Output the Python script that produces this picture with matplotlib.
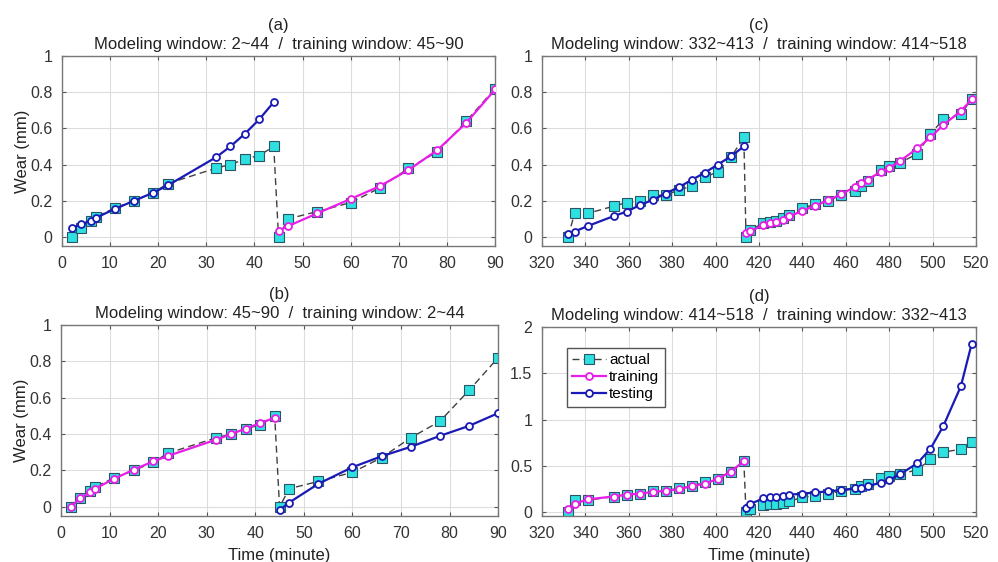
import matplotlib
matplotlib.use("Agg")
import matplotlib.pyplot as plt
import numpy as np

plt.rcParams['font.family'] = ['Liberation Sans', 'DejaVu Sans']

# time stamps (minute)
t1_model = [2, 4, 6, 7, 11, 15, 19, 22, 32, 35, 38, 41, 44]
t1_train = [45, 47, 53, 60, 66, 72, 78, 84, 90]
t2_model = [332, 335, 341, 353, 359, 365, 371, 377, 383, 389, 395, 401, 407, 413]
t2_train = [414, 416, 422, 425, 428, 431, 434, 440, 446, 452, 458, 464, 467,
            470, 476, 480, 485, 493, 499, 505, 513, 518]

# measured wear (mm)
wear1_a = [0.0, 0.05, 0.09, 0.11, 0.16, 0.20, 0.245, 0.295, 0.38, 0.40, 0.43, 0.45, 0.50]
wear1_b = [0.0, 0.10, 0.14, 0.19, 0.27, 0.38, 0.47, 0.64, 0.82]
wear2_a = [0.0, 0.13, 0.13, 0.17, 0.19, 0.20, 0.23, 0.23, 0.26, 0.28, 0.33, 0.36, 0.44, 0.55]
wear2_b = [0.0, 0.04, 0.075, 0.085, 0.09, 0.105, 0.12, 0.16, 0.18, 0.20, 0.23, 0.255,
           0.28, 0.31, 0.37, 0.39, 0.41, 0.46, 0.57, 0.65, 0.68, 0.76]

# (a) model fitted on 45~90, tested on 2~44
a_test = [0.05, 0.07, 0.09, 0.105, 0.155, 0.20, 0.245, 0.285, 0.44, 0.50, 0.57, 0.65, 0.745]
a_train = [0.035, 0.06, 0.13, 0.21, 0.28, 0.37, 0.48, 0.63, 0.815]
# (b) model fitted on 2~44, tested on 45~90
b_train = [0.0, 0.05, 0.08, 0.10, 0.155, 0.205, 0.25, 0.28, 0.37, 0.40, 0.43, 0.46, 0.49]
b_test = [-0.018, 0.024, 0.127, 0.218, 0.278, 0.33, 0.39, 0.445, 0.515]
# (c) model fitted on 414~518, tested on 332~413
c_test = [0.015, 0.03, 0.06, 0.115, 0.14, 0.175, 0.205, 0.24, 0.275, 0.315, 0.355, 0.40, 0.445, 0.50]
c_train = [0.02, 0.033, 0.064, 0.076, 0.084, 0.095, 0.113, 0.145, 0.173, 0.204, 0.236, 0.276,
           0.30, 0.315, 0.36, 0.38, 0.42, 0.49, 0.55, 0.62, 0.695, 0.76]
# (d) model fitted on 332~413, tested on 414~518
d_train = [0.03, 0.09, 0.14, 0.17, 0.19, 0.20, 0.22, 0.23, 0.25, 0.28, 0.31, 0.36, 0.44, 0.55]
d_test = [0.05, 0.09, 0.15, 0.16, 0.17, 0.18, 0.19, 0.20, 0.215, 0.225, 0.24, 0.257, 0.264,
          0.28, 0.32, 0.35, 0.41, 0.53, 0.685, 0.935, 1.36, 1.82]

titles = ["Modeling window: 2~44  /  training window: 45~90",
          "Modeling window: 45~90  /  training window: 2~44",
          "Modeling window: 332~413  /  training window: 414~518",
          "Modeling window: 414~518  /  training window: 332~413"]

CYAN = '#2ee0e0'
MAGENTA = '#e81ee8'
BLUE = '#1a1ab4'
GRAY = '#404040'

fig = plt.figure(figsize=(9.98, 5.62), dpi=100)
boxes = {'a': [0.0621, 0.5623, 0.434, 0.3381],
         'b': [0.0611, 0.0819, 0.438, 0.3399],
         'c': [0.5431, 0.5623, 0.4349, 0.3381],
         'd': [0.5431, 0.0819, 0.4349, 0.3363]}


def draw_actual(ax, t, w):
    ax.plot(t, w, color=GRAY, lw=1.0, ls=(0, (5, 3)), marker='s', ms=7.5,
            mfc=CYAN, mec='#2b5566', mew=0.8, label='actual', zorder=2)


def draw_fit(ax, t, w, color, label):
    ax.plot(t, w, color=color, lw=1.6, marker='o', ms=5, mfc='white',
            mec=color, mew=1.3, label=label, zorder=3)


def style(ax, xlim, xticks, ylim, yticks, letter, title):
    ax.set_xlim(*xlim)
    ax.set_ylim(*ylim)
    ax.set_xticks(xticks)
    ax.set_yticks(yticks)
    ax.set_yticklabels([f"{v:g}" for v in yticks])
    ax.grid(True, color='#dddddd', lw=0.8)
    ax.set_axisbelow(True)
    ax.tick_params(direction='in', top=True, right=True, labelsize=11.5,
                   colors='#555555', labelcolor='#333333', length=3, pad=7)
    for sp in ax.spines.values():
        sp.set_color('#777777')
        sp.set_linewidth(1.0)
    ax.set_title(f"({letter})\n{title}", fontsize=12, color='#222222',
                 linespacing=1.35, pad=5)


# (a)
ax = fig.add_axes(boxes['a'])
draw_actual(ax, t1_model + t1_train, wear1_a + wear1_b)
draw_fit(ax, t1_train, a_train, MAGENTA, 'training')
draw_fit(ax, t1_model, a_test, BLUE, 'testing')
style(ax, (0, 90), range(0, 91, 10), (-0.05, 1), [0, 0.2, 0.4, 0.6, 0.8, 1], 'a', titles[0])
ax.set_ylabel('Wear (mm)', fontsize=12, color='#222222', labelpad=0)

# (b)
ax = fig.add_axes(boxes['b'])
draw_actual(ax, t1_model + t1_train, wear1_a + wear1_b)
draw_fit(ax, t1_model, b_train, MAGENTA, 'training')
draw_fit(ax, t1_train, b_test, BLUE, 'testing')
style(ax, (0, 90), range(0, 91, 10), (-0.05, 1), [0, 0.2, 0.4, 0.6, 0.8, 1], 'b', titles[1])
ax.set_ylabel('Wear (mm)', fontsize=12, color='#222222', labelpad=0)
ax.set_xlabel('Time (minute)', fontsize=12, color='#222222', labelpad=5)

# (c)
ax = fig.add_axes(boxes['c'])
draw_actual(ax, t2_model + t2_train, wear2_a + wear2_b)
draw_fit(ax, t2_train, c_train, MAGENTA, 'training')
draw_fit(ax, t2_model, c_test, BLUE, 'testing')
style(ax, (320, 520), range(320, 521, 20), (-0.05, 1), [0, 0.2, 0.4, 0.6, 0.8, 1], 'c', titles[2])

# (d)
ax = fig.add_axes(boxes['d'])
draw_actual(ax, t2_model + t2_train, wear2_a + wear2_b)
draw_fit(ax, t2_model, d_train, MAGENTA, 'training')
draw_fit(ax, t2_train, d_test, BLUE, 'testing')
style(ax, (320, 520), range(320, 521, 20), (-0.04, 2), [0, 0.5, 1, 1.5, 2], 'd', titles[3])
ax.set_xlabel('Time (minute)', fontsize=12, color='#222222', labelpad=5)
leg = ax.legend(loc='upper left', bbox_to_anchor=(0.04, 0.93), fontsize=11,
                handlelength=2.2, handletextpad=0.2, borderpad=0.35,
                labelspacing=0.2, fancybox=False, framealpha=1)
leg.get_frame().set_edgecolor('#555555')
leg.get_frame().set_linewidth(1.0)

fig.savefig('out.png', dpi=100)
